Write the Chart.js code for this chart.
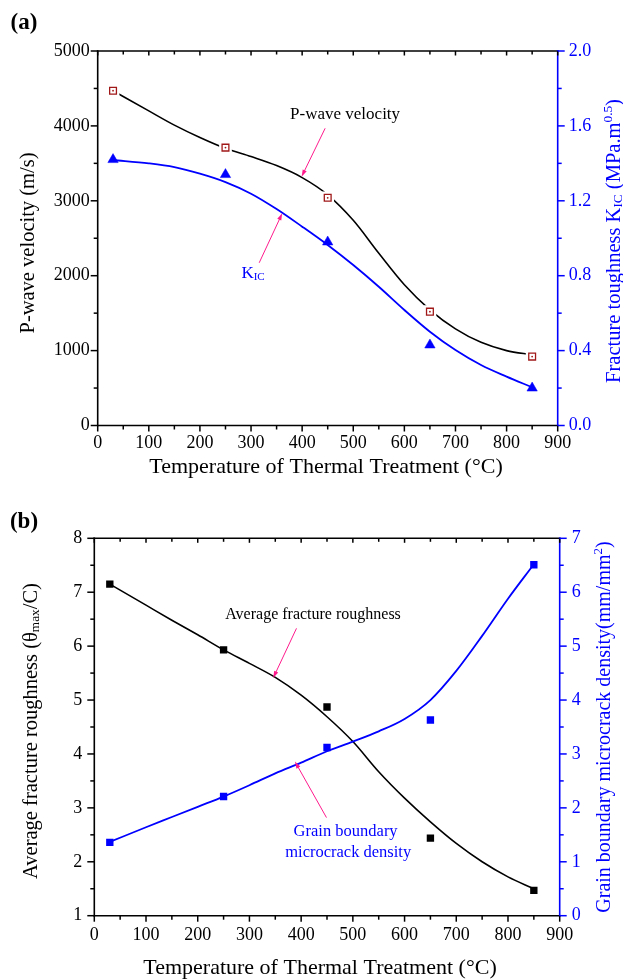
<!DOCTYPE html>
<html>
<head>
<meta charset="utf-8">
<script src="https://cdn.jsdelivr.net/npm/chart.js@4.4.1/dist/chart.umd.min.js"></script>
<style>
  html, body { margin: 0; padding: 0; background: #fff; }
  #wrap { position: relative; width: 623px; height: 979px; overflow: hidden; }
  canvas { position: absolute; left: 0; }
</style>
</head>
<body>
<div id="wrap">
  <canvas id="chartA" width="623" height="480" style="top:0;width:623px;height:480px"></canvas>
  <canvas id="chartB" width="623" height="499" style="top:480px;width:623px;height:499px"></canvas>
</div>
<script>
  "use strict";

  // measured temperatures (°C)
  const temps = [30, 250, 450, 650, 850];

  // (a) measured points
  const pWave = [4470, 3710, 3040, 1520, 920];
  const kIC = [1.42, 1.34, 0.98, 0.43, 0.2];

  // fitted curves
  const fitTemps = [30, 100, 150, 200, 250, 300, 350, 400, 450, 500, 550, 600, 650, 700, 750, 800, 850];
  const pWaveFit = [4470, 4200, 4010, 3845, 3700, 3590, 3470, 3310, 3080, 2740, 2300, 1880, 1545, 1290, 1110, 1000, 945];
  const kICFit = [1.418, 1.4, 1.38, 1.345, 1.3, 1.238, 1.156, 1.062, 0.964, 0.857, 0.741, 0.617, 0.501, 0.403, 0.323, 0.261, 0.204];

  // (b) measured points
  const roughness = [7.15, 5.93, 4.87, 2.44, 1.47];
  const crackDensity = [1.36, 2.21, 3.12, 3.63, 6.51];
  const roughnessFit = [7.15, 6.76, 6.48, 6.21, 5.93, 5.68, 5.42, 5.09, 4.69, 4.23, 3.67, 3.18, 2.74, 2.34, 2.0, 1.72, 1.5];
  const crackFit = [1.37, 1.64, 1.83, 2.02, 2.21, 2.42, 2.64, 2.84, 3.05, 3.23, 3.42, 3.65, 4.0, 4.54, 5.19, 5.88, 6.52];

  const serif = "'Liberation Serif', 'Times New Roman', serif";
  const black = "#000000";
  const blue = "#0000FF";
  const darkRed = "#A01818";
  const pink = "#FF1A8C";

  const pts = (xs, ys) => xs.map((x, i) => ({ x: x, y: ys[i] }));

  /**
   * Text with sub/superscripts, centred on (x, y)
   */
  function richText(ctx, segs, x, y, size, color, rotate, weight) {
    ctx.save();
    ctx.translate(x, y);
    if (rotate) ctx.rotate(-Math.PI / 2);
    ctx.fillStyle = color;
    ctx.textBaseline = "alphabetic";
    ctx.textAlign = "left";
    let total = 0;
    segs.forEach((s) => {
      const sz = s.sub || s.sup ? size * 0.65 : size;
      s.font = (weight || "normal") + " " + sz + "px " + serif;
      ctx.font = s.font;
      s.w = ctx.measureText(s.t).width;
      total += s.w;
    });
    let cx = -total / 2;
    segs.forEach((s) => {
      const dy = s.sub ? size * 0.12 : s.sup ? -size * 0.38 : 0;
      ctx.font = s.font;
      ctx.fillText(s.t, cx, size * 0.33 + dy);
      cx += s.w;
    });
    ctx.restore();
  }

  function arrow(ctx, x1, y1, x2, y2) {
    const ang = Math.atan2(y2 - y1, x2 - x1);
    const len = 7, wid = 2.2;
    ctx.save();
    ctx.strokeStyle = pink;
    ctx.fillStyle = pink;
    ctx.lineWidth = 1;
    ctx.beginPath();
    ctx.moveTo(x1, y1);
    ctx.lineTo(x2 - Math.cos(ang) * len * 0.8, y2 - Math.sin(ang) * len * 0.8);
    ctx.stroke();
    ctx.beginPath();
    ctx.moveTo(x2, y2);
    ctx.lineTo(x2 - Math.cos(ang) * len - Math.sin(ang) * wid, y2 - Math.sin(ang) * len + Math.cos(ang) * wid);
    ctx.lineTo(x2 - Math.cos(ang) * len + Math.sin(ang) * wid, y2 - Math.sin(ang) * len - Math.cos(ang) * wid);
    ctx.closePath();
    ctx.fill();
    ctx.restore();
  }

  /**
   * Origin style frame: axis lines plus major / minor ticks
   */
  const framePlugin = {
    id: "frame",
    afterDraw(chart) {
      const { ctx, chartArea: a, scales } = chart;
      const mm = (scale) => {
        const major = scale.ticks.map((t) => t.value);
        const minor = [];
        for (let i = 0; i < major.length - 1; i++) minor.push((major[i] + major[i + 1]) / 2);
        return { major, minor };
      };
      const line = (x1, y1, x2, y2, c) => {
        ctx.strokeStyle = c;
        ctx.beginPath();
        ctx.moveTo(x1, y1);
        ctx.lineTo(x2, y2);
        ctx.stroke();
      };
      ctx.save();
      ctx.lineWidth = 1.6;
      ctx.lineCap = "square";
      line(a.left, a.top, a.right, a.top, black);
      line(a.left, a.bottom, a.right, a.bottom, black);
      line(a.left, a.top, a.left, a.bottom, black);
      line(a.right, a.top, a.right, a.bottom, blue);
      ctx.lineCap = "butt";
      ctx.lineWidth = 1.5;
      const xs = mm(scales.x);
      xs.major.forEach((v) => {
        const p = scales.x.getPixelForValue(v);
        line(p, a.bottom, p, a.bottom + 6, black);
        line(p, a.top, p, a.top + 4.5, black);
      });
      xs.minor.forEach((v) => {
        const p = scales.x.getPixelForValue(v);
        line(p, a.bottom, p, a.bottom + 4, black);
        line(p, a.top, p, a.top + 3.5, black);
      });
      const yl = mm(scales.y);
      yl.major.forEach((v) => {
        const p = scales.y.getPixelForValue(v);
        line(a.left - 7, p, a.left, p, black);
      });
      yl.minor.forEach((v) => {
        const p = scales.y.getPixelForValue(v);
        line(a.left - 4, p, a.left, p, black);
      });
      const yr = mm(scales.y1);
      yr.major.forEach((v) => {
        const p = scales.y1.getPixelForValue(v);
        line(a.right, p, a.right + 7, p, blue);
      });
      yr.minor.forEach((v) => {
        const p = scales.y1.getPixelForValue(v);
        line(a.right, p, a.right + 4, p, blue);
      });
      ctx.restore();
    },
  };

  /**
   * Titles, panel letters and the pink call-outs
   */
  const textPlugin = {
    id: "texts",
    afterDraw(chart, args, opts) {
      const { ctx, scales } = chart;
      (opts.titles || []).forEach((t) => {
        richText(ctx, t.segs, t.x, t.y, t.size, t.color, t.rotate, t.weight);
      });
      (opts.notes || []).forEach((n) => {
        const ys = scales[n.axis];
        richText(ctx, n.segs, scales.x.getPixelForValue(n.at[0]), ys.getPixelForValue(n.at[1]), n.size, n.color);
      });
      (opts.arrows || []).forEach((r) => {
        const ys = scales[r.axis];
        arrow(
          ctx,
          scales.x.getPixelForValue(r.from[0]),
          ys.getPixelForValue(r.from[1]),
          scales.x.getPixelForValue(r.to[0]),
          ys.getPixelForValue(r.to[1])
        );
      });
    },
  };

  function makeScales(cfg) {
    const tickFont = { family: serif, size: 18 };
    return {
      x: {
        type: "linear",
        min: 0,
        max: 900,
        ticks: { stepSize: 100, color: black, font: tickFont, padding: cfg.xPad, maxRotation: 0, autoSkip: false, callback: (v) => String(v) },
        grid: { display: false, drawTicks: false },
        border: { display: false },
        afterFit: (s) => { s.height = cfg.xHeight; },
      },
      y: {
        type: "linear",
        position: "left",
        min: cfg.yMin,
        max: cfg.yMax,
        ticks: { stepSize: cfg.yStep, color: black, font: tickFont, padding: cfg.yPad, callback: (v) => String(v) },
        grid: { display: false, drawTicks: false },
        border: { display: false },
        afterFit: (s) => { s.width = cfg.leftWidth; },
      },
      y1: {
        type: "linear",
        position: "right",
        min: cfg.y1Min,
        max: cfg.y1Max,
        ticks: {
          stepSize: cfg.y1Step,
          color: blue,
          font: tickFont,
          padding: cfg.y1Pad,
          callback: cfg.y1Fmt,
        },
        grid: { display: false, drawTicks: false },
        border: { display: false },
        afterFit: (s) => { s.width = cfg.rightWidth; },
      },
    };
  }

  /**
   * (a) P-wave velocity and K_IC
   */
  new Chart(document.getElementById("chartA"), {
    type: "line",
    data: {
      datasets: [
        { type: "scatter", data: pts(temps, pWave), yAxisID: "y", pointStyle: "circle", pointRadius: 0.9, pointBackgroundColor: darkRed, pointBorderWidth: 0, order: 0 },
        { type: "scatter", data: pts(temps, pWave), yAxisID: "y", pointStyle: "rect", pointRadius: 4.8, pointBackgroundColor: "#fff", pointBorderColor: darkRed, pointBorderWidth: 1.3, order: 1 },
        { type: "scatter", data: pts(temps, pWave), yAxisID: "y", pointStyle: "rect", pointRadius: 9, pointBackgroundColor: "#fff", pointBorderWidth: 0, order: 2 },
        { type: "scatter", data: pts(temps, kIC), yAxisID: "y1", pointStyle: "triangle", pointRadius: 6, pointBackgroundColor: blue, pointBorderColor: blue, pointBorderWidth: 0.5, order: 1 },
        { data: pts(fitTemps, pWaveFit), yAxisID: "y", borderColor: black, borderWidth: 1.6, pointRadius: 0, cubicInterpolationMode: "monotone", fill: false, order: 3 },
        { data: pts(fitTemps, kICFit), yAxisID: "y1", borderColor: blue, borderWidth: 1.8, pointRadius: 0, cubicInterpolationMode: "monotone", fill: false, order: 3 },
      ],
    },
    options: {
      responsive: false,
      animation: false,
      events: [],
      layout: { padding: { top: 51, left: 0, right: 0, bottom: 0 } },
      scales: makeScales({
        xPad: 7, xHeight: 54.5,
        yMin: 0, yMax: 5000, yStep: 1000, yPad: 8, leftWidth: 97.7,
        y1Min: 0, y1Max: 2, y1Step: 0.4, y1Pad: 11, rightWidth: 65.3,
        y1Fmt: (v) => v.toFixed(1),
      }),
      plugins: {
        legend: { display: false },
        tooltip: { enabled: false },
        texts: {
          titles: [
            { segs: [{ t: "(a)" }], x: 24, y: 21, size: 23, color: black, weight: "bold" },
            { segs: [{ t: "P-wave velocity (m/s)" }], x: 27, y: 243, size: 20.5, color: black, rotate: true },
            {
              segs: [{ t: "Fracture toughness K" }, { t: "IC", sub: true }, { t: " (MPa.m" }, { t: "0.5", sup: true }, { t: ")" }],
              x: 613, y: 241, size: 20.5, color: blue, rotate: true,
            },
            { segs: [{ t: "Temperature of Thermal Treatment (°C)" }], x: 326, y: 466, size: 22, color: black },
          ],
          notes: [
            { segs: [{ t: "P-wave velocity" }], at: [484, 4168], axis: "y", size: 17, color: black },
            { segs: [{ t: "K" }, { t: "IC", sub: true }], at: [304, 0.816], axis: "y1", size: 17, color: blue },
          ],
          arrows: [
            { from: [445, 3968], to: [399, 3322], axis: "y" },
            { from: [316, 0.869], to: [361, 1.133], axis: "y1" },
          ],
        },
      },
    },
    plugins: [framePlugin, textPlugin],
  });

  /**
   * (b) fracture roughness and grain boundary microcrack density
   */
  new Chart(document.getElementById("chartB"), {
    type: "line",
    data: {
      datasets: [
        { type: "scatter", data: pts(temps, roughness), yAxisID: "y", pointStyle: "rect", pointRadius: 5.2, pointBackgroundColor: black, pointBorderColor: black, pointBorderWidth: 0, order: 0 },
        { type: "scatter", data: pts(temps, crackDensity), yAxisID: "y1", pointStyle: "rect", pointRadius: 5.2, pointBackgroundColor: blue, pointBorderColor: blue, pointBorderWidth: 0, order: 0 },
        { data: pts(fitTemps, roughnessFit), yAxisID: "y", borderColor: black, borderWidth: 1.6, pointRadius: 0, cubicInterpolationMode: "monotone", fill: false, order: 2 },
        { data: pts(fitTemps, crackFit), yAxisID: "y1", borderColor: blue, borderWidth: 1.8, pointRadius: 0, cubicInterpolationMode: "monotone", fill: false, order: 1 },
      ],
    },
    options: {
      responsive: false,
      animation: false,
      events: [],
      layout: { padding: { top: 58.3, left: 0, right: 0, bottom: 0 } },
      scales: makeScales({
        xPad: 9, xHeight: 63.3,
        yMin: 1, yMax: 8, yStep: 1, yPad: 12, leftWidth: 94.3,
        y1Min: 0, y1Max: 7, y1Step: 1, y1Pad: 12, rightWidth: 63.3,
        y1Fmt: (v) => String(v),
      }),
      plugins: {
        legend: { display: false },
        tooltip: { enabled: false },
        texts: {
          titles: [
            { segs: [{ t: "(b)" }], x: 24, y: 40, size: 23, color: black, weight: "bold" },
            { segs: [{ t: "Average fracture roughness (θ" }, { t: "max", sub: true }, { t: "/C)" }], x: 30, y: 251, size: 20.5, color: black, rotate: true },
            { segs: [{ t: "Grain boundary microcrack density(mm/mm" }, { t: "2", sup: true }, { t: ")" }], x: 603, y: 247, size: 20, color: blue, rotate: true },
            { segs: [{ t: "Temperature of Thermal Treatment (°C)" }], x: 320, y: 487, size: 22, color: black },
          ],
          notes: [
            { segs: [{ t: "Average fracture roughness" }], at: [423, 6.61], axis: "y", size: 16, color: black },
            { segs: [{ t: "Grain boundary" }], at: [486, 1.57], axis: "y1", size: 16.5, color: blue },
            { segs: [{ t: "microcrack density" }], at: [491, 1.19], axis: "y1", size: 16.5, color: blue },
          ],
          arrows: [
            { from: [391, 6.33], to: [346, 5.41], axis: "y" },
            { from: [449, 1.82], to: [388, 2.86], axis: "y1" },
          ],
        },
      },
    },
    plugins: [framePlugin, textPlugin],
  });
</script>
</body>
</html>
